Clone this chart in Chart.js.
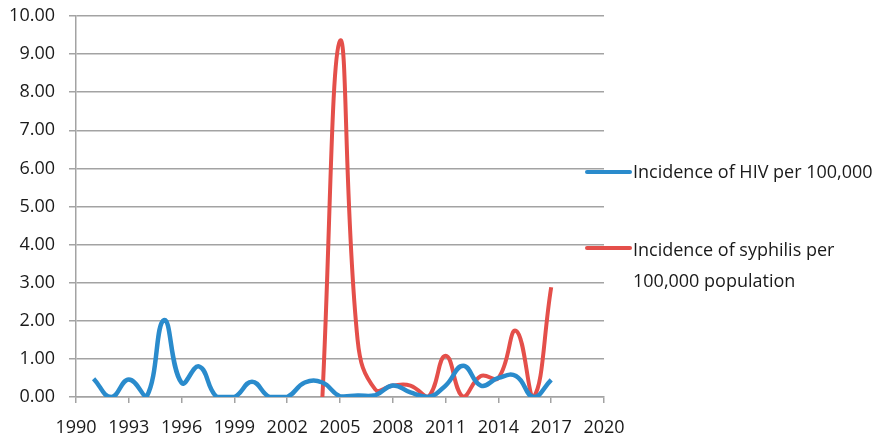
<!DOCTYPE html>
<html>
<head>
<meta charset="utf-8">
<script src="https://cdn.jsdelivr.net/npm/chart.js@4.4.1/dist/chart.umd.min.js"></script>
<style>
    html, body { margin: 0; padding: 0; background: #fff; }
    #wrap { position: relative; width: 885px; height: 442px; }
    #legend { position: absolute; left: 585px; top: 0; font-family: "Open Sans", sans-serif; font-size: 18px; color: #1a1a1a; }
    .item { position: absolute; left: 0; white-space: nowrap; }
    .swatch { position: absolute; left: 0; width: 47px; height: 4px; border-radius: 2px; }
    .label { position: absolute; left: 48px; line-height: 31px; }
</style>
</head>
<body>
<div id="wrap">
    <canvas id="chart" width="885" height="442"></canvas>
    <div id="legend">
        <div class="item" style="top:170px">
            <div class="swatch" style="background:#2a8bcc"></div>
            <div class="label" style="top:-14px">Incidence of HIV per 100,000</div>
        </div>
        <div class="item" style="top:246px">
            <div class="swatch" style="background:#e44f4a"></div>
            <div class="label" style="top:-12px">Incidence of syphilis per<br>100,000 population</div>
        </div>
    </div>
</div>
<script>
const years = [1991, 1992, 1993, 1994, 1995, 1996, 1997, 1998, 1999, 2000, 2001, 2002, 2003, 2004,
    2005, 2006, 2007, 2008, 2009, 2010, 2011, 2012, 2013, 2014, 2015, 2016, 2017];
const hivValues = [0.48, 0.0, 0.46, 0.0, 2.02, 0.37, 0.8, 0.0, 0.0, 0.4, 0.0, 0.0, 0.38, 0.38,
    0.02, 0.04, 0.05, 0.3, 0.12, 0.0, 0.3, 0.82, 0.3, 0.5, 0.55, 0.0, 0.45];
const syphilisYears = [2004, 2005, 2006, 2007, 2008, 2009, 2010, 2011, 2012, 2013, 2014, 2015, 2016, 2017];
const syphilisValues = [0.0, 9.35, 1.5, 0.2, 0.3, 0.3, 0.0, 1.08, 0.0, 0.55, 0.5, 1.74, 0.0, 2.88];

const gridColor = "#a3a3a3";
const tickFont = { family: "Open Sans", size: 18 };

const chart = new Chart(document.getElementById("chart"), {
    type: "line",
    data: {
        datasets: [{
            label: "Incidence of HIV per 100,000",
            data: years.map((y, i) => ({ x: y, y: hivValues[i] })),
            borderColor: "#2a8bcc",
            borderWidth: 4.5,
            pointRadius: 0,
            tension: 0.45,
        }, {
            label: "Incidence of syphilis per 100,000 population",
            data: syphilisYears.map((y, i) => ({ x: y, y: syphilisValues[i] })),
            borderColor: "#e44f4a",
            borderWidth: 4,
            pointRadius: 0,
            tension: 0.45,
        }]
    },
    options: {
        responsive: false,
        animation: false,
        layout: { padding: { top: 16, right: 281, left: 0, bottom: 0 } },
        plugins: { legend: { display: false }, tooltip: { enabled: false } },
        scales: {
            x: {
                type: "linear",
                min: 1990,
                max: 2020,
                ticks: {
                    stepSize: 3,
                    color: "#1a1a1a",
                    font: tickFont,
                    padding: 14,
                    maxRotation: 0,
                    callback: v => String(v),
                },
                grid: { drawOnChartArea: false, drawTicks: true, tickLength: 6, color: gridColor, lineWidth: 1.5 },
                border: { color: gridColor, width: 1.5 },
                afterFit: s => { s.height = 45; s.paddingLeft = 0; s.paddingRight = 0; },
            },
            y: {
                min: 0,
                max: 10,
                ticks: {
                    stepSize: 1,
                    color: "#1a1a1a",
                    font: tickFont,
                    padding: 14,
                    callback: v => v.toFixed(2),
                },
                grid: { color: gridColor, lineWidth: 1.5, tickLength: 7 },
                border: { color: gridColor, width: 1.5 },
                afterFit: s => { s.width = 76; s.paddingTop = 0; s.paddingBottom = 0; },
            }
        }
    }
});
</script>
</body>
</html>
